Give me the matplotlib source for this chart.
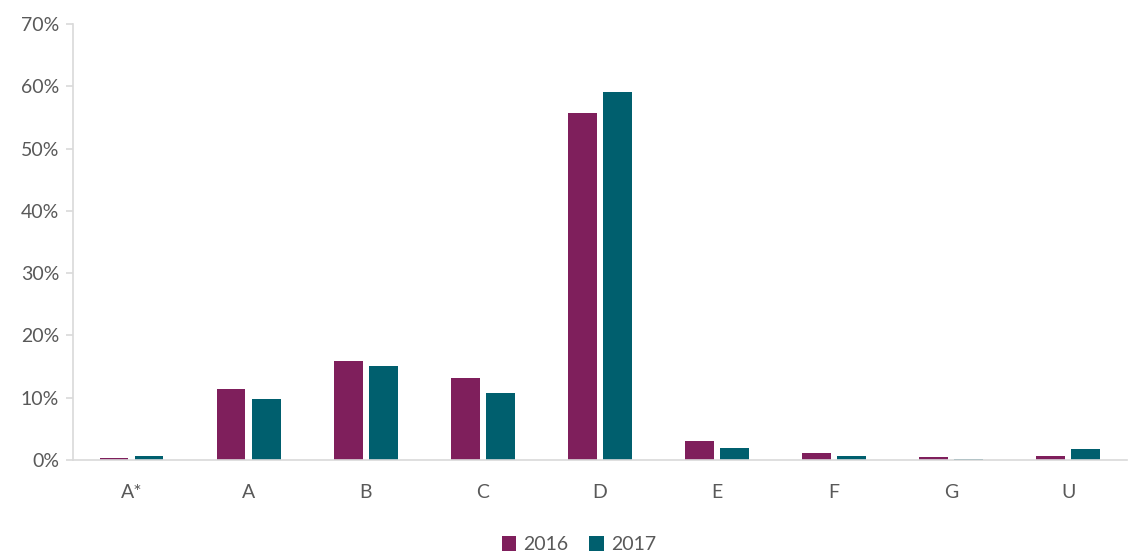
import matplotlib
matplotlib.use("Agg")
import matplotlib.pyplot as plt
import numpy as np
from matplotlib.ticker import FuncFormatter

categories = ["A*", "A", "B", "C", "D", "E", "F", "G", "U"]
values_2016 = [0.3, 11.4, 15.9, 13.2, 55.7, 3.0, 1.1, 0.4, 0.6]
values_2017 = [0.6, 9.8, 15.1, 10.8, 59.1, 1.9, 0.6, 0.2, 1.8]
series_labels = ["2016", "2017"]
colors = ["#7F1F5C", "#005F6E"]

plt.rcParams['font.family'] = ['Lato', 'DejaVu Sans']

fig = plt.figure(figsize=(11.45, 5.54), dpi=100)
ax = fig.add_axes([0.0638, 0.1697, 0.9202, 0.787])

x = np.arange(len(categories))
w = 0.245
gap = 0.055
ax.bar(x - (w + gap) / 2, values_2016, w, color=colors[0], label=series_labels[0])
ax.bar(x + (w + gap) / 2, values_2017, w, color=colors[1], label=series_labels[1])

ax.set_xlim(-0.5, len(categories) - 0.5)
ax.set_ylim(0, 70)
ax.set_yticks(np.arange(0, 71, 10))
ax.yaxis.set_major_formatter(FuncFormatter(lambda v, p: f"{int(v)}%"))
ax.set_xticks(x)
ax.set_xticklabels(categories)

for s in ["top", "right"]:
    ax.spines[s].set_visible(False)
for s in ["left", "bottom"]:
    ax.spines[s].set_color("#D9D9D9")
    ax.spines[s].set_linewidth(1.2)
ax.tick_params(axis='y', colors="#D9D9D9", labelcolor="#595959", labelsize=14, length=5, width=1.2, pad=5)
ax.tick_params(axis='x', length=0, labelcolor="#595959", labelsize=14, pad=17)

leg = ax.legend(loc='lower center', bbox_to_anchor=(0.48, -0.245), ncol=2, frameon=False,
                fontsize=14, handlelength=0.75, handleheight=0.75, handletextpad=0.35,
                columnspacing=1.1, labelcolor="#595959", borderpad=0.2)

fig.savefig("out.png", dpi=100)
